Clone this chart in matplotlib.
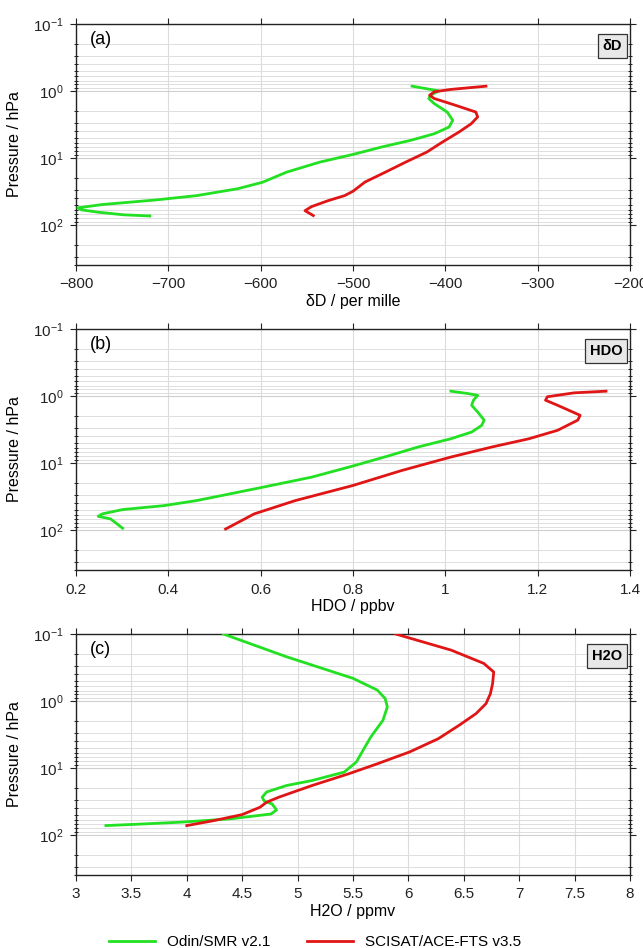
import matplotlib
matplotlib.use("Agg")
import matplotlib.pyplot as plt
import numpy as np
from matplotlib.ticker import LogLocator, NullFormatter, MultipleLocator, FuncFormatter

plt.rcParams['font.family'] = ['Liberation Sans', 'DejaVu Sans']
plt.rcParams['mathtext.fontset'] = 'custom'
plt.rcParams['mathtext.rm'] = 'Liberation Sans'
plt.rcParams['mathtext.it'] = 'Liberation Sans'

# ---- Panel (a): deltaD / per mille ----
dD_smr_x = [-436, -407, -416, -418, -412, -398, -392, -396, -412, -438, -469, -500,
            -536, -572, -598, -625, -669, -714, -772, -798, -794, -776, -749, -720]
dD_smr_p = [0.85, 1.0, 1.16, 1.3, 1.55, 2.07, 2.75, 3.47, 4.37, 5.5, 6.9, 8.9,
            11.6, 16.4, 23.2, 29, 36.7, 42.7, 50, 56, 60, 65, 71, 74]
dD_ace_x = [-356, -394, -412, -417, -412, -389, -367, -365, -372, -385, -403, -420,
            -443, -465, -487, -500, -509, -527, -545, -552, -543]
dD_ace_p = [0.85, 0.95, 1.03, 1.16, 1.3, 1.64, 2.07, 2.45, 3.1, 4.1, 5.8, 8.2,
            11.6, 16.4, 23, 31.6, 36.7, 43.7, 53.7, 61.7, 73]

# ---- Panel (b): HDO / ppbv ----
hdo_smr_x = [1.012, 1.048, 1.070, 1.061, 1.057, 1.070, 1.084, 1.079, 1.057, 1.012,
             0.941, 0.879, 0.799, 0.710, 0.604, 0.515, 0.461, 0.390, 0.301, 0.257,
             0.248, 0.275, 0.301]
hdo_smr_p = [0.85, 0.92, 0.98, 1.16, 1.38, 1.74, 2.3, 2.75, 3.47, 4.37,
             5.8, 7.8, 11.2, 16.4, 23.2, 30.9, 36.7, 43.7, 50, 58,
             63, 69, 95]
hdo_ace_x = [1.348, 1.279, 1.221, 1.217, 1.243, 1.292, 1.287, 1.243, 1.181, 1.101,
             1.012, 0.906, 0.799, 0.675, 0.586, 0.524]
hdo_ace_p = [0.85, 0.9, 1.03, 1.16, 1.38, 1.95, 2.3, 3.27, 4.37, 5.8,
             8.2, 13, 21.9, 36.7, 58, 97.7]

# ---- Panel (c): H2O / ppmv ----
h2o_smr_x = [4.33, 4.90, 5.50, 5.72, 5.79, 5.81, 5.77, 5.66, 5.59, 5.53, 5.42, 5.13,
             4.90, 4.72, 4.68, 4.70, 4.77, 4.81, 4.76, 4.39, 3.94, 3.61, 3.27]
h2o_smr_p = [0.1, 0.219, 0.46, 0.69, 0.92, 1.23, 1.95, 3.47, 5.5, 8.2, 11.6, 15.5,
             18.4, 23, 27.5, 31.6, 34.7, 42.7, 49, 58, 65, 69, 73]
h2o_ace_x = [5.885, 6.385, 6.68, 6.77, 6.76, 6.74, 6.70, 6.61, 6.46, 6.27, 6.01, 5.72,
             5.46, 5.13, 4.83, 4.72, 4.66, 4.50, 4.24, 4.00]
h2o_ace_p = [0.1, 0.174, 0.275, 0.37, 0.55, 0.78, 1.1, 1.55, 2.3, 3.67, 5.8, 8.7,
             12.3, 18.4, 27.5, 32.7, 38.9, 50, 61.7, 73]

panel_letters = ['(a)', '(b)', '(c)']
box_labels = ['δD', 'HDO', 'H2O']
x_labels = ['δD / per mille', 'HDO / ppbv', 'H2O / ppmv']
x_limits = [(-800, -200), (0.2, 1.4), (3, 8)]
x_steps = [100, 0.2, 0.5]
series_names = ['Odin/SMR v2.1', 'SCISAT/ACE-FTS v3.5']

green = '#22e022'
red = '#e01515'

fig = plt.figure(figsize=(6.43, 9.48), dpi=100)
W, H = 643, 948
tops = [24, 329, 634]
bots = [265, 570, 875]
left_px, right_px = 76, 630

data = [
    (dD_smr_x, dD_smr_p, dD_ace_x, dD_ace_p),
    (hdo_smr_x, hdo_smr_p, hdo_ace_x, hdo_ace_p),
    (h2o_smr_x, h2o_smr_p, h2o_ace_x, h2o_ace_p),
]

num_fmt = FuncFormatter(lambda v, pos: ('%g' % round(v, 6)).replace('-', '\u2212'))

for i in range(3):
    ax = fig.add_axes([left_px / W, 1 - bots[i] / H, (right_px - left_px) / W,
                       (bots[i] - tops[i]) / H])
    gx, gp, rx, rp = data[i]
    l1, = ax.plot(gx, gp, color=green, lw=2.0, label=series_names[0], zorder=3)
    l2, = ax.plot(rx, rp, color=red, lw=2.0, label=series_names[1], zorder=3)
    ax.set_yscale('log')
    ax.set_ylim(400, 0.1)
    ax.set_xlim(*x_limits[i])
    ax.xaxis.set_major_locator(MultipleLocator(x_steps[i]))
    ax.xaxis.set_major_formatter(num_fmt)
    ax.yaxis.set_major_locator(LogLocator(base=10, numticks=10))
    ax.yaxis.set_minor_locator(LogLocator(base=10, subs=np.arange(2, 10), numticks=20))
    ax.yaxis.set_minor_formatter(NullFormatter())
    ax.grid(True, which='major', axis='x', color='#dcdcdc', lw=0.8)
    ax.grid(True, which='major', axis='y', color='#cfcfcf', lw=0.8)
    ax.grid(True, which='minor', axis='y', color='#dedede', lw=0.7)
    ax.set_axisbelow(True)
    ax.tick_params(which='major', direction='out', length=4, width=0.8,
                   top=True, right=True, labelsize=11, colors='#222222', pad=5)
    ax.tick_params(which='minor', direction='inout', length=3, width=0.6,
                   left=True, right=True)
    for s in ax.spines.values():
        s.set_linewidth(1.0)
        s.set_color('#222222')
    ax.set_xlabel(x_labels[i], fontsize=11.5, labelpad=2)
    ax.set_ylabel('Pressure / hPa', fontsize=11.5, labelpad=0)
    ax.yaxis.set_label_coords((22 - left_px) / (right_px - left_px), 0.5)
    ax.text(0.025, 0.935, panel_letters[i], transform=ax.transAxes,
            fontsize=13, ha='left', va='center')
    ax.text(0.986, 0.91, box_labels[i], transform=ax.transAxes, fontsize=10.5,
            fontweight='bold', ha='right', va='center',
            bbox=dict(boxstyle='square,pad=0.35', fc='#e8e8e8', ec='#333333', lw=0.9))

fig.legend(handles=[l1, l2], labels=series_names, loc='center',
           bbox_to_anchor=(0.49, 1 - 942 / H), ncol=2, frameon=False,
           fontsize=11, handlelength=3.0, columnspacing=2.4, handletextpad=0.8)

fig.savefig('out.png', dpi=100)
